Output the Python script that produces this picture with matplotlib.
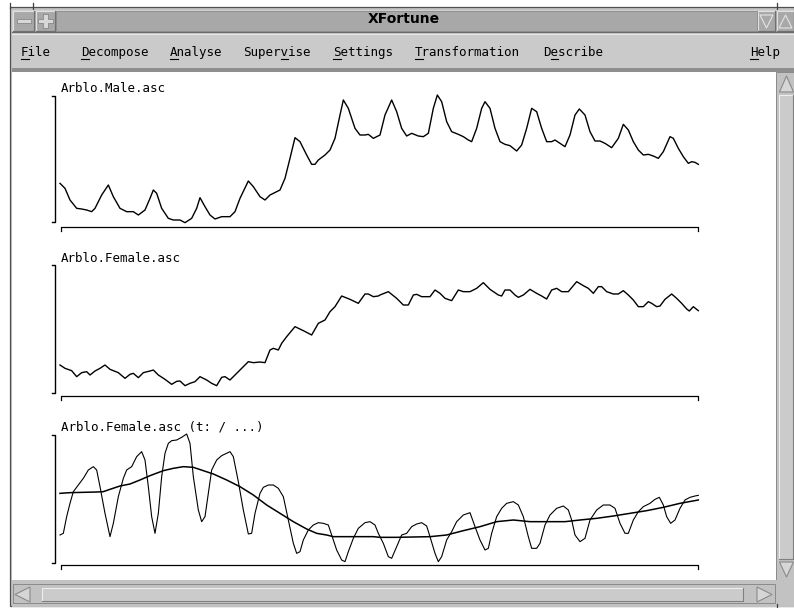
import matplotlib
matplotlib.use("Agg")
import matplotlib.pyplot as plt
from matplotlib.patches import Rectangle, Polygon

W, H = 794, 608
MONO = "DejaVu Sans Mono"

# ---------------------------------------------------------------
# data: (t, level) pairs, t = position on time axis
# ---------------------------------------------------------------
male = [(0, 115), (15, 100), (30, 65), (50, 40), (65, 38), (80, 35), (95, 30), (105, 40),
        (125, 80), (145, 110), (160, 75), (180, 40), (200, 30), (220, 30), (235, 20), (255, 35),
        (270, 70), (280, 95), (290, 85), (305, 40), (325, 10), (340, 5), (360, 5), (375, -3),
        (395, 10), (410, 40), (420, 72), (435, 45), (450, 20), (465, 8), (485, 15), (510, 15),
        (525, 30), (540, 70), (565, 122), (580, 105), (600, 75), (615, 65), (630, 80), (650, 90),
        (660, 95), (675, 130), (690, 190), (705, 252), (720, 240), (740, 200), (755, 172),
        (765, 172), (775, 185), (795, 200), (810, 215), (825, 250), (840, 320), (850, 365),
        (865, 340), (885, 280), (900, 260), (915, 260), (925, 262), (940, 250), (960, 260),
        (975, 320), (995, 365), (1010, 330), (1025, 280), (1040, 257), (1055, 265), (1075, 257),
        (1090, 255), (1105, 265), (1120, 340), (1132, 380), (1145, 360), (1160, 300), (1175, 270),
        (1195, 262), (1210, 255), (1225, 245), (1235, 240), (1250, 280), (1265, 340), (1275, 360),
        (1290, 340), (1305, 280), (1320, 240), (1335, 232), (1350, 228), (1370, 212), (1385, 230),
        (1400, 280), (1415, 340), (1430, 330), (1445, 280), (1460, 240), (1475, 240), (1485, 245),
        (1500, 235), (1515, 225), (1530, 260), (1545, 320), (1558, 338), (1575, 320), (1590, 270),
        (1605, 242), (1620, 242), (1635, 235), (1655, 222), (1675, 250), (1690, 292), (1705, 275),
        (1720, 240), (1735, 215), (1750, 200), (1765, 202), (1780, 197), (1795, 190), (1810, 210),
        (1830, 255), (1840, 250), (1855, 220), (1870, 195), (1885, 175), (1895, 180), (1905, 178),
        (1915, 172)]

female = [(0, 85), (15, 75), (35, 68), (50, 50), (65, 62), (80, 65), (90, 55), (105, 67),
          (120, 75), (135, 85), (150, 72), (175, 62), (195, 45), (210, 57), (220, 60), (235, 47),
          (250, 62), (270, 67), (280, 70), (295, 55), (315, 42), (335, 27), (350, 36), (360, 37),
          (375, 23), (390, 30), (405, 35), (420, 50), (440, 40), (455, 30), (470, 23), (485, 48),
          (495, 50), (510, 40), (525, 55), (545, 75), (565, 95), (580, 92), (600, 94), (615, 92),
          (630, 130), (640, 135), (655, 130), (665, 150), (680, 170), (705, 200), (730, 188),
          (755, 175), (775, 210), (795, 220), (810, 245), (825, 260), (845, 292), (870, 282),
          (895, 270), (915, 298), (925, 298), (940, 290), (955, 292), (960, 295), (985, 305),
          (1010, 285), (1030, 265), (1045, 265), (1060, 295), (1070, 297), (1085, 290), (1110, 290),
          (1125, 310), (1140, 300), (1155, 285), (1175, 278), (1195, 310), (1210, 305), (1230, 305),
          (1250, 315), (1270, 332), (1290, 312), (1315, 295), (1325, 292), (1335, 310), (1350, 310),
          (1365, 295), (1375, 288), (1390, 295), (1410, 312), (1430, 300), (1445, 292), (1460, 283),
          (1475, 310), (1490, 315), (1505, 305), (1525, 305), (1550, 335), (1570, 323), (1585, 315),
          (1600, 300), (1615, 320), (1625, 320), (1640, 305), (1660, 298), (1675, 298), (1690, 308),
          (1705, 295), (1720, 280), (1735, 260), (1750, 260), (1765, 275), (1775, 270), (1790, 260),
          (1800, 262), (1815, 282), (1835, 298), (1850, 285), (1865, 270), (1880, 253), (1888, 247),
          (1900, 260), (1910, 252), (1915, 248)]

# Female transformed (t: / ...) and its smooth trend
transformed = [(0, 85), (10, 90), (20, 140), (30, 180), (40, 215), (55, 235), (70, 255), (85, 280),
               (100, 290), (110, 280), (120, 230), (135, 150), (150, 80), (160, 120), (175, 200),
               (190, 255), (200, 280), (215, 290), (230, 320), (245, 335), (255, 310), (265, 230),
               (275, 140), (285, 90), (295, 150), (305, 260), (315, 330), (325, 360), (335, 368),
               (350, 370), (365, 378), (380, 388), (390, 360), (400, 260), (415, 160), (425, 125),
               (435, 140), (445, 210), (455, 280), (470, 310), (485, 323), (500, 330), (510, 335),
               (520, 320), (535, 245), (550, 160), (565, 88), (575, 90), (585, 150), (600, 210),
               (610, 228), (625, 235), (640, 235), (655, 225), (670, 200), (685, 130), (700, 60),
               (710, 30), (720, 35), (730, 70), (745, 100), (760, 115), (775, 122), (790, 120),
               (805, 115), (815, 85), (830, 40), (845, 10), (855, 5), (865, 35), (880, 75),
               (895, 105), (915, 122), (930, 125), (945, 115), (955, 90), (970, 60), (985, 20),
               (995, 15), (1010, 50), (1025, 85), (1040, 90), (1055, 110), (1070, 118), (1085, 122),
               (1100, 112), (1110, 80), (1125, 30), (1135, 5), (1145, 20), (1160, 70), (1175, 95),
               (1190, 125), (1210, 145), (1230, 152), (1245, 110), (1260, 70), (1275, 40), (1285, 45),
               (1295, 90), (1310, 140), (1325, 165), (1340, 180), (1360, 185), (1375, 175), (1390, 140),
               (1405, 80), (1415, 45), (1430, 45), (1440, 60), (1455, 115), (1470, 145), (1490, 165),
               (1510, 172), (1525, 160), (1535, 130), (1545, 85), (1560, 65), (1575, 75), (1590, 130),
               (1610, 160), (1630, 175), (1650, 175), (1665, 165), (1680, 120), (1695, 90), (1705, 90),
               (1720, 130), (1735, 155), (1750, 170), (1770, 180), (1785, 192), (1798, 198), (1810, 175),
               (1820, 140), (1832, 120), (1845, 130), (1860, 165), (1875, 190), (1890, 198), (1905, 202),
               (1915, 204)]

trend = [(0, 210), (30, 212), (70, 213), (110, 214), (130, 215), (150, 222), (180, 232), (210, 238),
         (240, 250), (270, 263), (310, 278), (340, 285), (370, 290), (400, 288), (430, 278),
         (460, 268), (500, 250), (540, 230), (580, 205), (620, 175), (660, 150), (700, 125),
         (740, 103), (770, 90), (800, 85), (820, 80), (860, 80), (940, 80), (960, 78), (1010, 78),
         (1060, 79), (1110, 80), (1160, 85), (1210, 98), (1260, 110), (1310, 125), (1360, 130),
         (1410, 125), (1460, 125), (1515, 125), (1560, 130), (1610, 135), (1660, 142), (1710, 150),
         (1760, 158), (1810, 168), (1860, 180), (1915, 190)]

panel_titles = ["Arblo.Male.asc", "Arblo.Female.asc", "Arblo.Female.asc (t: / ...)"]

menu_items = ["File", "Decompose", "Analyse", "Supervise", "Settings",
              "Transformation", "Describe", "Help"]
menu_x = [21, 81, 170, 243, 333, 415, 543, 750]
menu_key = [0, 0, 0, 5, 0, 0, 1, 0]

# ---------------------------------------------------------------
fig = plt.figure(figsize=(W / 100, H / 100), dpi=100)
ui = fig.add_axes([0, 0, 1, 1])
ui.set_xlim(0, W)
ui.set_ylim(H, 0)
ui.axis("off")

LIGHT = "#ececec"
DARK = "#7a7a7a"


def box(x0, y0, x1, y1, fc, ec=None, lw=0.7, z=1):
    ui.add_patch(Rectangle((x0, y0), x1 - x0, y1 - y0, facecolor=fc,
                           edgecolor=ec if ec else fc, linewidth=lw, zorder=z))


def bevel(x0, y0, x1, y1, light=LIGHT, dark=DARK, z=3):
    ui.plot([x0, x0, x1], [y1, y0, y0], color=light, lw=0.8, zorder=z)
    ui.plot([x0, x1, x1], [y1, y1, y0], color=dark, lw=0.8, zorder=z)


def tri(pts, z=4):
    ui.add_patch(Polygon(pts, closed=True, facecolor="#d6d6d6",
                         edgecolor="#8a8a8a", linewidth=0.8, zorder=z))


# window frame
box(10, 7, 794, 606, "#c4c4c4", "#505050", lw=0.9)

# title bar
box(12, 10, 794, 32, "#a8a8a8")
bevel(12, 10, 794, 32, light="#d0d0d0", dark="#6a6a6a")
box(56, 11, 757, 31, "#a8a8a8", "#8a8a8a", lw=0.6)
ui.text(404, 23, "XFortune", ha="center", va="baseline",
        fontsize=10, fontweight="bold", family="DejaVu Sans", zorder=5)

# window buttons
for x0, x1 in [(13, 34), (36, 55), (758, 775), (777, 794)]:
    box(x0, 11, x1, 31, "#a8a8a8")
    bevel(x0, 11, x1, 31, light="#e0e0e0", dark="#707070")
box(17, 19, 31, 23, "#d8d8d8", "#888888", lw=0.6, z=4)
ui.add_patch(Polygon([(43, 14), (48, 14), (48, 19), (53, 19), (53, 23), (48, 23), (48, 28),
                      (43, 28), (43, 23), (38, 23), (38, 19), (43, 19)], closed=True,
                     facecolor="#d8d8d8", edgecolor="#888888", linewidth=0.6, zorder=4))
ui.add_patch(Polygon([(760, 15), (773, 15), (766.5, 28)], closed=True, facecolor="none",
                     edgecolor="#e4e4e4", linewidth=0.8, zorder=4))
ui.add_patch(Polygon([(779, 28), (792, 28), (785.5, 15)], closed=True, facecolor="none",
                     edgecolor="#e4e4e4", linewidth=0.8, zorder=4))

# menu bar
box(12, 33, 794, 68, "#cacaca")
ui.plot([12, 794], [33.5, 33.5], color="#e6e6e6", lw=0.8)
box(12, 68, 794, 72, "#8e8e8e")
CHAR_W = 7.53
for label, x, k in zip(menu_items, menu_x, menu_key):
    ui.text(x, 56, label, ha="left", va="baseline", fontsize=9, family=MONO, zorder=5)
    ui.plot([x + k * CHAR_W, x + (k + 1) * CHAR_W], [58.6, 58.6],
            color="black", lw=0.8, zorder=5)

# drawing area
box(12, 72, 776, 580, "white")

# vertical scrollbar
box(776, 72, 794, 580, "#c2c2c2", "#8a8a8a")
box(779, 95, 793, 559, "#cbcbcb", "#8c8c8c", z=2)
bevel(779, 95, 793, 559, light="#eeeeee", dark="#808080")
tri([(779.5, 92), (786.5, 76), (793.5, 92)])
tri([(779.5, 562), (786.5, 577), (793.5, 562)])

# horizontal scrollbar
box(12, 580, 776, 606, "#c2c2c2")
box(13, 584, 775, 603, "#c2c2c2", "#8a8a8a")
box(42, 588, 743, 601, "#cbcbcb", z=2)
bevel(42, 588, 743, 601, light="#eeeeee", dark="#808080")
tri([(30, 587), (15, 594.5), (30, 602)])
tri([(757, 587), (772, 594.5), (757, 602)])
box(776, 580, 794, 606, "#c2c2c2")

# frame corner marks
for xs, ys in [([33, 33], [3, 10]), ([777, 777], [3, 10]), ([777, 777], [604, 608]),
               ([10, 10], [3, 8])]:
    ui.plot(xs, ys, color="#404040", lw=0.9)

# ---------------------------------------------------------------
# the three panels: top px, bottom px, level range, title baseline px
# ---------------------------------------------------------------
panels = [(95.67, 226.67, -15, 378, 92),
          (265.0, 396.0, -8, 385, 261.5),
          (435.0, 565.33, -6, 385, 431)]
T_MAX = 1915
X_LEFT, X_RIGHT = 60.0, 698.33

axes = []
for (top, bottom, vlo, vhi, ty), title in zip(panels, panel_titles):
    ax = fig.add_axes([X_LEFT / W, 1 - bottom / H, (X_RIGHT - X_LEFT) / W, (bottom - top) / H])
    ax.set_xlim(0, T_MAX)
    ax.set_ylim(vlo, vhi)
    ax.axis("off")
    # level bracket and time axis
    ax.plot([-24, -15, -15, -24], [vhi, vhi, 0, 0], color="black", lw=1.0, clip_on=False)
    ax.plot([2, 2, T_MAX, T_MAX], [vlo - 12, vlo, vlo, vlo - 12], color="black",
            lw=0.9, clip_on=False)
    ui.text(61, ty, title, ha="left", va="baseline", fontsize=9, family=MONO, zorder=5)
    axes.append(ax)

t, v = zip(*male)
axes[0].plot(t, v, color="black", lw=1.0, clip_on=False)
t, v = zip(*female)
axes[1].plot(t, v, color="black", lw=1.0, clip_on=False)
t, v = zip(*transformed)
axes[2].plot(t, v, color="black", lw=0.8, clip_on=False)
t, v = zip(*trend)
axes[2].plot(t, v, color="black", lw=1.1, clip_on=False)

fig.savefig("out.png", dpi=100)
